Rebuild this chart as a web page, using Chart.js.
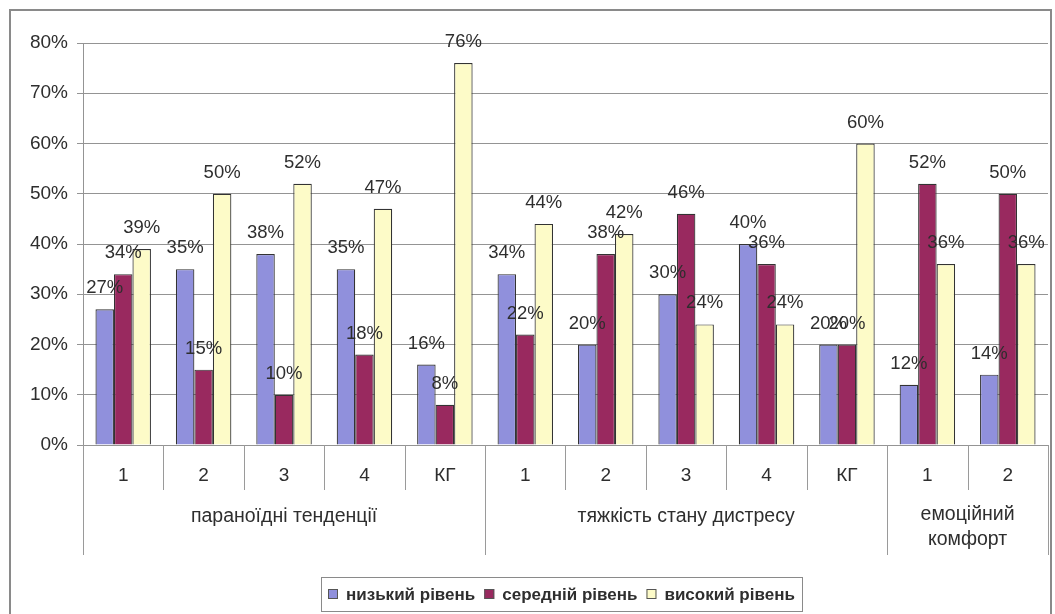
<!DOCTYPE html>
<html>
<head>
<meta charset="utf-8">
<script src="https://cdn.jsdelivr.net/npm/chart.js@4"></script>
<style>
  body { margin: 0; background: #fff; }
  #wrap { position: relative; width: 1055px; height: 614px; }
  #frame { position: absolute; left: 9px; top: 9px; width: 1039px; height: 610px;
           border: 2px solid #8a8a8a; pointer-events: none; }
</style>
</head>
<body>
<div id="wrap">
  <canvas id="levels" width="1055" height="614"></canvas>
  <div id="frame"></div>
</div>
<script>
const categories = ['1', '2', '3', '4', 'КГ', '1', '2', '3', '4', 'КГ', '1', '2'];
const groupNames = [['параноїдні тенденції'], ['тяжкість стану дистресу'], ['емоційний', 'комфорт']];
const groupSizes = [5, 5, 2];
const seriesNames = ['низький рівень', 'середній рівень', 'високий рівень'];
const lowLevel = [27, 35, 38, 35, 16, 34, 20, 30, 40, 20, 12, 14];
const midLevel = [34, 15, 10, 18, 8, 22, 38, 46, 36, 20, 52, 50];
const highLevel = [39, 50, 52, 47, 76, 44, 42, 24, 24, 60, 36, 36];
const yMax = 80;
const yStep = 10;

const FONT = '"Liberation Sans", Arial, sans-serif';
const TEXT = '#2e2e2e';
const colors = ['#9090dc', '#99295f', '#fdfbc8'];

// value labels over each bar
const barLabels = {
  id: 'barLabels',
  afterDatasetsDraw(chart) {
    const ctx = chart.ctx;
    ctx.save();
    ctx.font = '18.5px ' + FONT;
    ctx.fillStyle = TEXT;
    ctx.textAlign = 'center';
    ctx.textBaseline = 'middle';
    chart.data.datasets.forEach((ds, i) => {
      chart.getDatasetMeta(i).data.forEach((bar, j) => {
        ctx.fillText(ds.data[j] + '%', bar.x, bar.y - 21);
      });
    });
    ctx.restore();
  }
};

// category separators, group captions and the boxed legend
const groupAxis = {
  id: 'groupAxis',
  afterDraw(chart) {
    const ctx = chart.ctx;
    const x = chart.scales.x;
    const bottom = chart.chartArea.bottom;
    const step = x.getPixelForValue(1) - x.getPixelForValue(0);
    const edges = categories.map((c, i) => x.getPixelForValue(i) - step / 2);
    edges.push(x.getPixelForValue(categories.length - 1) + step / 2);

    const groupEdges = [0];
    groupSizes.forEach(n => groupEdges.push(groupEdges[groupEdges.length - 1] + n));

    ctx.save();
    ctx.strokeStyle = '#9a9a9a';
    ctx.lineWidth = 1;
    edges.forEach((px, i) => {
      const len = groupEdges.includes(i) ? 110 : 45;
      ctx.beginPath();
      ctx.moveTo(Math.round(px) + 0.5, bottom);
      ctx.lineTo(Math.round(px) + 0.5, bottom + len);
      ctx.stroke();
    });

    ctx.font = '19.5px ' + FONT;
    ctx.fillStyle = TEXT;
    ctx.textAlign = 'center';
    ctx.textBaseline = 'middle';
    groupNames.forEach((lines, g) => {
      const cx = (edges[groupEdges[g]] + edges[groupEdges[g + 1]]) / 2;
      const y0 = lines.length > 1 ? bottom + 70 : bottom + 72;
      lines.forEach((t, k) => ctx.fillText(t, cx, y0 + k * 25));
    });

    // legend
    ctx.font = 'bold 17px ' + FONT;
    const sq = 10, gapIn = 8, gapOut = 9, padX = 7;
    const widths = seriesNames.map(s => ctx.measureText(s).width);
    let total = padX * 2;
    widths.forEach((w, i) => { total += sq + gapIn + w + (i < widths.length - 1 ? gapOut : 0); });
    const boxL = Math.round(561 - total / 2), boxT = 577, boxH = 34;
    ctx.strokeStyle = '#8a8a8a';
    ctx.strokeRect(boxL + 0.5, boxT + 0.5, Math.round(total), boxH);
    let cx = boxL + padX;
    const cy = boxT + boxH / 2;
    ctx.textAlign = 'left';
    seriesNames.forEach((s, i) => {
      ctx.fillStyle = colors[i];
      ctx.fillRect(cx, cy - sq / 2, sq, sq);
      ctx.strokeStyle = '#555';
      ctx.strokeRect(cx + 0.5, cy - sq / 2 + 0.5, sq - 1, sq - 1);
      cx += sq + gapIn;
      ctx.fillStyle = TEXT;
      ctx.fillText(s, cx, cy + 1);
      cx += widths[i] + gapOut;
    });
    ctx.restore();
  }
};

const yTicks = [];
for (let v = 0; v <= yMax; v += yStep) yTicks.push(v);

new Chart(document.getElementById('levels'), {
  type: 'bar',
  data: {
    labels: categories,
    datasets: [lowLevel, midLevel, highLevel].map((d, i) => ({
      label: seriesNames[i],
      data: d,
      backgroundColor: colors[i],
      borderColor: '#333',
      borderWidth: 1.2,
      categoryPercentage: 0.69,
      barPercentage: 1.0
    }))
  },
  options: {
    responsive: false,
    animation: false,
    layout: { padding: { top: 43, right: 7, left: 0, bottom: 59 } },
    plugins: { legend: { display: false }, tooltip: { enabled: false } },
    scales: {
      x: {
        grid: { display: false, drawTicks: false },
        border: { display: false },
        ticks: { font: { family: FONT, size: 19 }, color: TEXT, padding: 19, maxRotation: 0 },
        afterFit: s => { s.height = 110; }
      },
      y: {
        min: 0,
        max: yMax,
        afterBuildTicks: s => { s.ticks = yTicks.map(v => ({ value: v })); },
        ticks: { font: { family: FONT, size: 19 }, color: TEXT, padding: 9,
                 callback: v => v + '%' },
        grid: { color: '#949494', lineWidth: 1, tickLength: 6 },
        border: { color: '#949494' },
        afterFit: s => { s.width = 83; }
      }
    }
  },
  plugins: [barLabels, groupAxis]
});
</script>
</body>
</html>
